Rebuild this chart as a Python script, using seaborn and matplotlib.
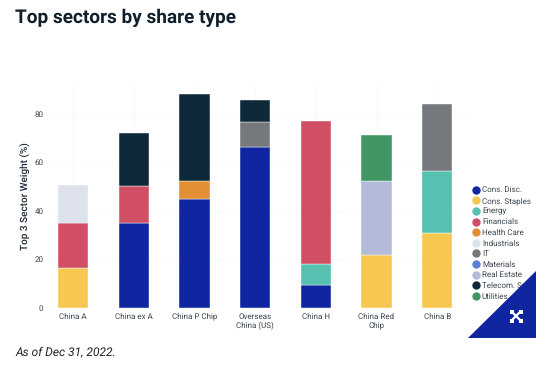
import numpy as np
import pandas as pd
import seaborn as sns
import matplotlib.pyplot as plt
from matplotlib.lines import Line2D
from matplotlib.patches import Polygon

W, H = 553, 369

categories = ["China A", "China ex A", "China P Chip", "Overseas\nChina (US)", "China H", "China Red\nChip", "China B"]
sectors = ["Cons. Disc.", "Cons. Staples", "Energy", "Financials", "Health Care", "Industrials",
           "IT", "Materials", "Real Estate", "Telecom. Svc.", "Utilities"]
colors = ["#0f26a0", "#f6c852", "#56c1b0", "#d14f65", "#e38f33", "#dde2ec",
          "#75787c", "#5f7fd6", "#b4bbd9", "#0e2a3a", "#419764"]

cons_disc = [0, 35, 44.9, 66.3, 9.4, 0, 0]
cons_staples = [16.5, 0, 0, 0, 0, 22, 31]
energy = [0, 0, 0, 0, 8.9, 0, 25.3]
financials = [18.3, 15.1, 0, 0, 58.5, 0, 0]
health_care = [0, 0, 7.3, 0, 0, 0, 0]
industrials = [15.9, 0, 0, 0, 0, 0, 0]
it = [0, 0, 0, 10.4, 0, 0, 27.7]
materials = [0, 0, 0, 0, 0, 0, 0]
real_estate = [0, 0, 0, 0, 0, 30.3, 0]
telecom = [0, 21.9, 35.8, 8.9, 0, 0, 0]
utilities = [0, 0, 0, 0, 0, 19, 0]

weights = [cons_disc, cons_staples, energy, financials, health_care, industrials,
           it, materials, real_estate, telecom, utilities]

sns.set_theme(style="white", font="Roboto")
plt.rcParams["text.hinting"] = "no_hinting"
plt.rcParams["text.hinting_factor"] = 1
fig = plt.figure(figsize=(W / 100, H / 100), dpi=100)
ax = fig.add_axes([47 / W, 1 - 308 / H, 421 / W, 224 / H])

bottom = np.zeros(len(categories))
for name, vals, col in zip(sectors, weights, colors):
    df = pd.DataFrame({"share": categories, "weight": vals})
    df = df[df["weight"] > 0]
    if len(df) > 0:
        idx = [categories.index(c) for c in df["share"]]
        sns.barplot(data=df, x="share", y="weight", order=categories, color=col, saturation=1,
                    width=0.5, bottom=bottom[idx], edgecolor="white", linewidth=0.3, ax=ax, zorder=3)
    bottom += np.array(vals)

ax.set_xlim(-0.428, 6.507)
ax.set_ylim(0, 92.2)
ax.set_yticks([0, 20, 40, 60, 80])
ax.grid(True, color="#eeeef1", linewidth=0.7, linestyle=":")
ax.set_axisbelow(True)
sns.despine(ax=ax, left=True, bottom=True)
ax.axhline(0, color="#e6e6ea", linewidth=0.7, zorder=1)
ax.tick_params(axis="x", length=0, labelsize=6, labelcolor="#3c4650", pad=3.5)
ax.tick_params(axis="y", length=0, labelsize=6, labelcolor="#3c4650", pad=2.5)
ax.set_xlabel("")
ax.set_ylabel("Top 3 Sector Weight (%)", fontsize=7.1, fontweight="medium", color="#1e2a36")
ax.yaxis.set_label_coords((31 - 47) / 421, 0.5)

fig.text(15 / W, 1 - 18 / H, "Top sectors by share type", fontsize=14, fontweight="bold",
         color="#111f2c", va="center", ha="left")
fig.text(15 / W, 1 - 352 / H, "As of Dec 31, 2022.", fontsize=8.8, fontstyle="italic",
         color="#222222", va="center", ha="left")

handles = [Line2D([], [], linestyle="", marker="o", markersize=5, color=c) for c in colors]
leg = fig.legend(handles, sectors, loc="upper left", bbox_to_anchor=(472 / W, 1 - 186.4 / H), frameon=False,
                 fontsize=5.5, labelcolor="#3c4650", handletextpad=0.3, labelspacing=0.39,
                 borderpad=0, borderaxespad=0, handlelength=1)

# expand button in the corner covers part of the legend
tri = Polygon([(468 / W, 1 - 338 / H), (536 / W, 1 - 271 / H), (536 / W, 1 - 338 / H)], closed=True,
              transform=fig.transFigure, facecolor="#0f26a0", edgecolor="none", zorder=10)
fig.add_artist(tri)
cx, cy, r = 516 / W, 1 - 316 / H, 4.5
for dx, dy in [(1, 1), (1, -1)]:
    fig.add_artist(Line2D([cx - dx * r / W, cx + dx * r / W], [cy - dy * r / H, cy + dy * r / H],
                          transform=fig.transFigure, color="white", linewidth=1.6, zorder=11))
for dx, dy in [(1, 1), (-1, 1), (1, -1), (-1, -1)]:
    fig.add_artist(Line2D([cx + dx * r / W], [cy + dy * r / H], transform=fig.transFigure, linestyle="",
                          marker="s", markersize=3, markeredgewidth=0, color="white", zorder=11))

fig.savefig("out.png", dpi=100)
